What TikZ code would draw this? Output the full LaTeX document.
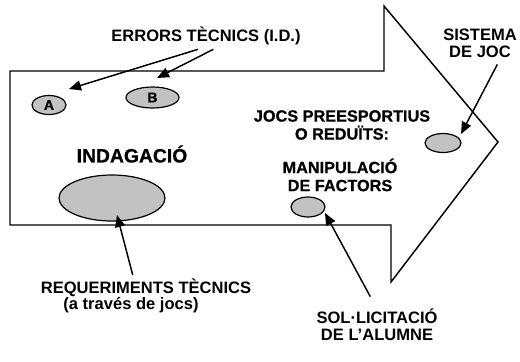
\documentclass[tikz,border=0pt]{standalone}
\usepackage{fontspec}
\setmainfont{Liberation Sans}
\newfontfamily\heavyfont[FakeBold=0.7]{Liberation Sans Bold}
\usetikzlibrary{arrows.meta,shapes.geometric}
\definecolor{blobgray}{gray}{0.76}
\begin{document}
\begin{tikzpicture}[x=0.75pt,y=-0.75pt,
  outline/.style={draw=black,line width=1.1pt,line join=miter},
  blob/.style={ellipse,draw=black,line width=0.9pt,fill=blobgray,inner sep=0pt},
  ptr/.style={draw=black,line width=1.1pt,-{Triangle[length=9pt,width=7.5pt]}},
  lbl/.style={font=\fontsize{12.4}{13}\selectfont\bfseries,align=center,inner sep=0pt},
  hvy/.style={font=\fontsize{12.2}{13.5}\selectfont\heavyfont,align=center,inner sep=0pt}]
\useasboundingbox (0,0) rectangle (520,361);
\fill[white] (0,0) rectangle (520,361);
% big arrow
\draw[outline] (10,71) -- (384,71) -- (384,6) -- (498,142) -- (391,282) -- (391,225) -- (10,225) -- cycle;
% ellipses
\node[blob,minimum width=25.5pt,minimum height=14.25pt,font=\fontsize{10.5}{10}\selectfont\heavyfont] (A) at (49,105) {A};
\node[blob,minimum width=39.75pt,minimum height=15.75pt,font=\fontsize{10.5}{10}\selectfont\heavyfont] (B) at (152.5,97.5) {B};
\node[blob,minimum width=27pt,minimum height=14.25pt] (sis) at (443,143) {};
\node[blob,minimum width=25.5pt,minimum height=15pt] (man) at (308,207) {};
\node[blob,minimum width=79.5pt,minimum height=34.5pt] (ind) at (112,198) {};
% texts
\node[lbl] (errors) at (206,36) {ERRORS TÈCNICS (I.D.)};
\node[lbl] (sistema) at (480,43) {SISTEMA\\DE JOC};
\node[hvy] (jocs) at (342,125) {JOCS PREESPORTIUS\\O REDUÏTS:};
\node[hvy] (manip) at (340,175) {MANIPULACIÓ\\DE FACTORS};
\node[hvy,font=\fontsize{14.5}{15}\selectfont\heavyfont] (indag) at (132,154) {INDAGACIÓ};
\node[lbl] (req) at (146,288) {REQUERIMENTS TÈCNICS};
\node[lbl] (reqb) at (131,305) {(a través de jocs)};
\node[lbl] (sol) at (377,325) {SOL·LICITACIÓ\\DE L’ALUMNE};
% arrow tips
\coordinate (tA) at (69,89);
\coordinate (tB) at (157,78);
\coordinate (tS) at (461,134);
\coordinate (tR) at (117,215);
\coordinate (tM) at (325,213);
% connectors
\draw[ptr] ([xshift=-6pt,yshift=-3pt]errors.south) -- (tA);
\draw[ptr] ([xshift=5.5pt,yshift=-3pt]errors.south) -- (tB);
\draw[ptr] ([xshift=13pt,yshift=-5pt]sistema.south) -- (tS);
\draw[ptr] ([xshift=-10pt,yshift=3pt]req.north) -- (tR);
\draw[ptr] ([xshift=-5pt,yshift=9pt]sol.north) -- (tM);
\end{tikzpicture}
\end{document}
